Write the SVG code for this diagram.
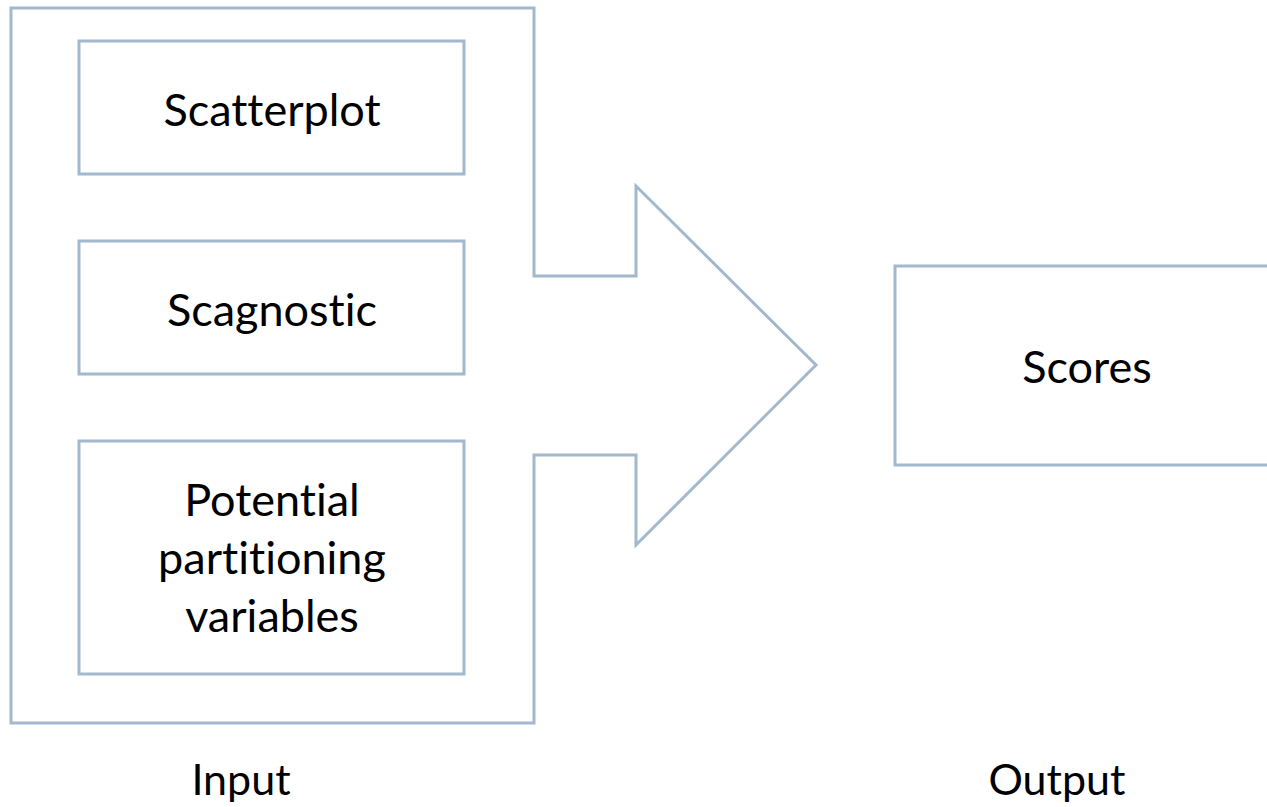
<svg xmlns="http://www.w3.org/2000/svg" width="1267" height="807" viewBox="0 0 1267 807">
<style>
.s{fill:#fff;stroke:#A2B8CD;stroke-width:3;stroke-linejoin:miter}
.t{font-family:Lato,"Open Sans","Liberation Sans",sans-serif;font-size:45px;fill:#000;text-anchor:middle;font-variant-ligatures:none}
.l{font-size:43px}
</style>
<rect width="1267" height="807" fill="#fff"/>
<g id="input-arrow">
<path class="s" d="M11,8 H534 V276 H636 V186 L816,365 L636,545 V455 H534 V723 H11 Z"/>
</g>
<g id="scatterplot">
<rect class="s" x="79" y="41" width="385" height="133"/>
<text class="t" x="272" y="126">Scatterplot</text>
</g>
<g id="scagnostic">
<rect class="s" x="79" y="241" width="385" height="133"/>
<text class="t" x="272" y="326">Scagnostic</text>
</g>
<g id="potential">
<rect class="s" x="79" y="441" width="385" height="233"/>
<text class="t" x="272" y="516">Potential</text>
<text class="t" x="272" y="574">partitioning</text>
<text class="t" x="272" y="632">variables</text>
</g>
<g id="scores">
<rect class="s" x="895" y="266" width="380" height="199"/>
<text class="t" x="1087" y="383">Scores</text>
</g>
<g id="labels">
<text class="t l" x="241" y="795">Input</text>
<text class="t l" x="1057" y="795">Output</text>
</g>
<g id="connectors"></g>
</svg>
